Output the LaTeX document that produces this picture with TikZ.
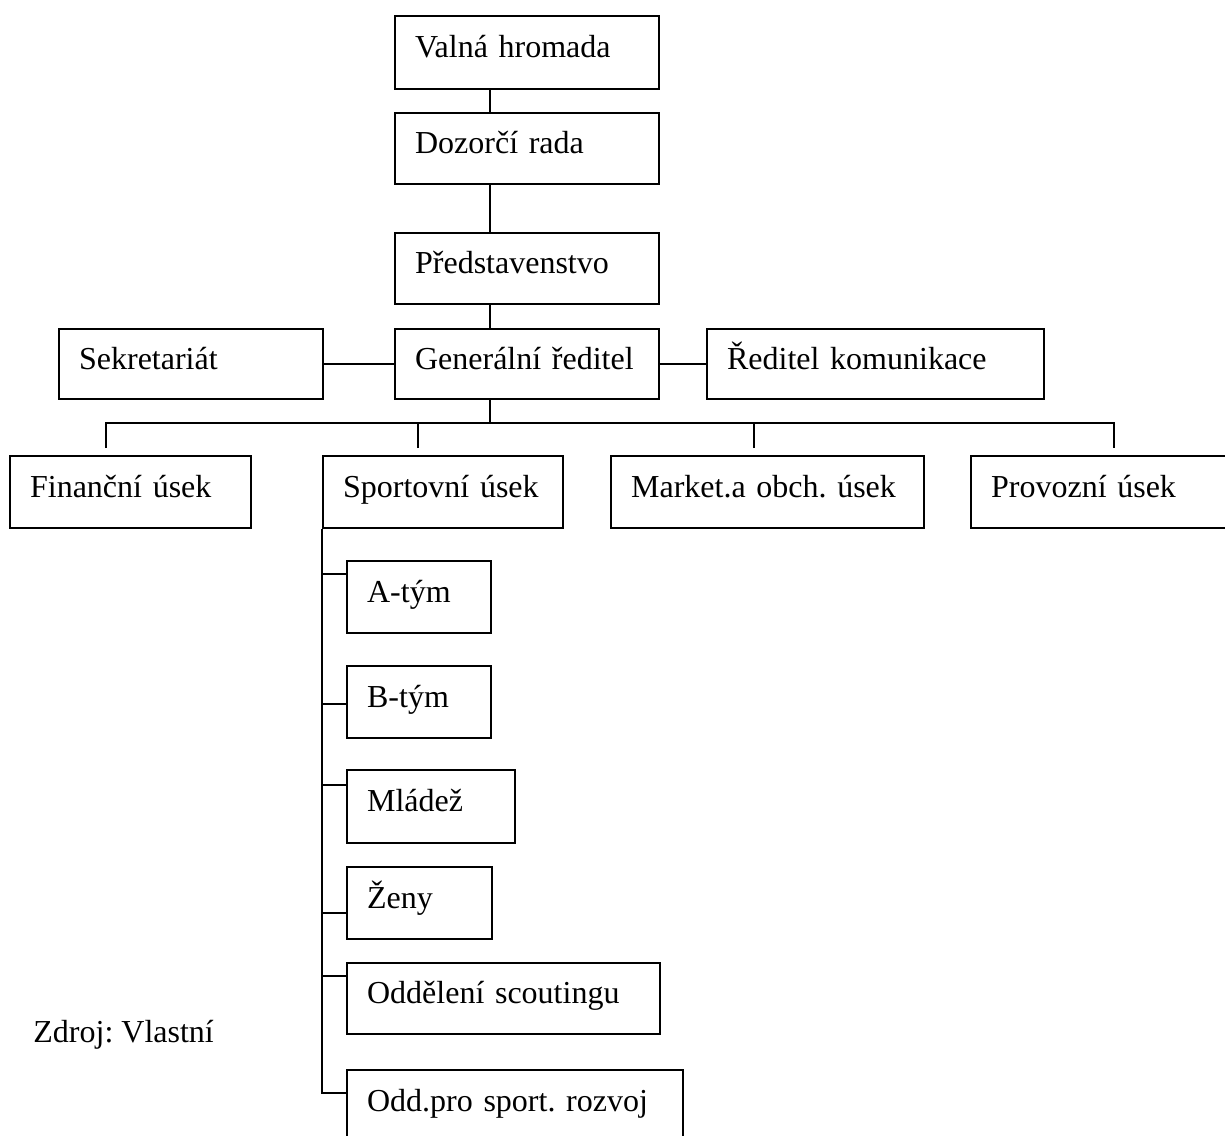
\documentclass[tikz,border=0pt]{standalone}
\usepackage{fontspec}
\setmainfont{Liberation Serif}
\frenchspacing
\newcommand\orgfont{\fontsize{16pt}{19pt}\selectfont\frenchspacing}
\begin{document}
\begin{tikzpicture}[x=0.5pt,y=-0.5pt,
  orgbox/.style={draw, line width=1.1pt, anchor=north west, inner xsep=10pt,
    inner ysep=0pt, text height=8pt, text depth=3pt, align=left, font=\orgfont},
  link/.style={line width=1.1pt}]
\useasboundingbox (0,0) rectangle (1225,1135);
\clip (0,0) rectangle (1225,1135);

% top of the hierarchy
\node[orgbox, text width=112pt, minimum height=36.5pt] (valna)   at (394,15)  {Valná hromada};
\node[orgbox, text width=112pt, minimum height=35.5pt] (dozorci) at (394,112) {Dozorčí rada};
\node[orgbox, text width=112pt, minimum height=35.5pt] (predst)  at (394,232) {Představenstvo};
\node[orgbox, text width=112pt, minimum height=35pt]   (gen)     at (394,328) {Generální ředitel};
\node[orgbox, text width=112pt, minimum height=35pt]   (sekr)    at (58,328)  {Sekretariát};
\node[orgbox, text width=148.5pt, minimum height=35pt] (redkom)  at (706,328) {Ředitel komunikace};

% divisions
\node[orgbox, text width=100.5pt, minimum height=36pt] (fin)    at (9,455)   {Finanční úsek};
\node[orgbox, text width=100pt,   minimum height=36pt] (sport)  at (322,455) {Sportovní úsek};
\node[orgbox, text width=136.5pt, minimum height=36pt] (market) at (610,455) {Market.a obch. úsek};
\node[orgbox, text width=115pt,   minimum height=36pt] (provoz) at (970,455) {Provozní úsek};

% sports division units
\node[orgbox, text width=52pt,    minimum height=36pt]   (atym)   at (346,560)  {A-tým};
\node[orgbox, text width=52pt,    minimum height=36pt]   (btym)   at (346,665)  {B-tým};
\node[orgbox, text width=64pt,    minimum height=36.5pt] (mladez) at (346,769)  {Mládež};
\node[orgbox, text width=52.5pt,  minimum height=36pt]   (zeny)   at (346,866)  {Ženy};
\node[orgbox, text width=136.5pt, minimum height=35.5pt] (scout)  at (346,962)  {Oddělení scoutingu};
\node[orgbox, text width=148pt,   minimum height=36pt]   (rozvoj) at (346,1069) {Odd.pro sport. rozvoj};

\node[anchor=base west, inner sep=0pt, font=\orgfont] (zdroj) at (33,1042) {Zdroj: Vlastní};

% main vertical line
\coordinate (cx) at (490,0);
\draw[link] (valna.south -| cx) -- (dozorci.north -| cx);
\draw[link] (dozorci.south -| cx) -- (predst.north -| cx);
\draw[link] (predst.south -| cx) -- (gen.north -| cx);
\draw[link] (sekr.east) -- (gen.west);
\draw[link] (gen.east) -- (redkom.west);

% bus to the divisions
\coordinate (bus) at (490,423);
\coordinate (tfin) at (106,448);
\coordinate (tsport) at (418,448);
\coordinate (tmark) at (754,448);
\coordinate (tprov) at (1114,448);
\draw[link] (gen.south -| cx) -- (bus);
\draw[link] (tfin) |- (bus) -| (tprov);
\draw[link] (tsport) -- (tsport |- bus);
\draw[link] (tmark) -- (tmark |- bus);

% spine of the sports division
\coordinate (ta) at (322,574);
\coordinate (tb) at (322,704);
\coordinate (tm) at (322,785);
\coordinate (tz) at (322,913);
\coordinate (ts) at (322,976);
\coordinate (tr) at (322,1093);
\draw[link] (sport.south west) -- (tr) -- (tr -| rozvoj.west);
\draw[link] (ta) -- (ta -| atym.west);
\draw[link] (tb) -- (tb -| btym.west);
\draw[link] (tm) -- (tm -| mladez.west);
\draw[link] (tz) -- (tz -| zeny.west);
\draw[link] (ts) -- (ts -| scout.west);
\end{tikzpicture}
\end{document}
